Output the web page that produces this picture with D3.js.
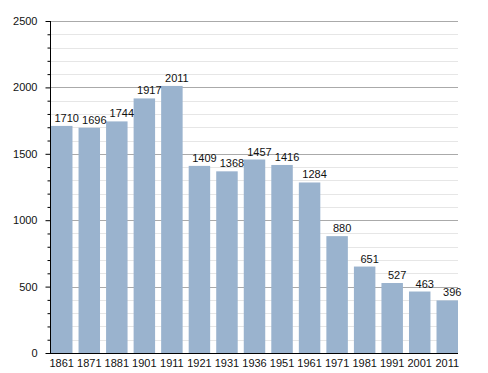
<!DOCTYPE html>
<html>
<head>
  <script src="https://d3js.org/d3.v7.min.js"></script>
  <style>
    body { margin: 0; background: #fff; }
    svg text { font-family: "Liberation Sans", Arial, sans-serif; font-size: 11px; fill: #111; }
  </style>
</head>
<body>
  <svg id="chart"></svg>
  <script>
    // Data
    const years = ["1861", "1871", "1881", "1901", "1911", "1921", "1931", "1936", "1951", "1961", "1971", "1981", "1991", "2001", "2011"];
    const population = [1710, 1696, 1744, 1917, 2011, 1409, 1368, 1457, 1416, 1284, 880, 651, 527, 463, 396];
    const yTicks = [0, 500, 1000, 1500, 2000, 2500];

    const width = 488, height = 373;
    const plotLeft = 50, plotRight = 458, plotTop = 21, plotBottom = 353;

    const svg = d3.select("#chart").attr("width", width).attr("height", height);

    const x = d3.scaleBand().domain(years).range([plotLeft + 1, plotRight]).paddingInner(0.22).paddingOuter(0.0);
    const y = d3.scaleLinear().domain([0, 2500]).range([plotBottom, plotTop]);

    // minor grid every 100
    svg.append("g").selectAll("line")
      .data(d3.range(100, 2501, 100).filter(v => v % 500 !== 0))
      .join("line")
      .attr("x1", plotLeft).attr("x2", plotRight)
      .attr("y1", d => Math.round(y(d)) + 0.5).attr("y2", d => Math.round(y(d)) + 0.5)
      .attr("stroke", "#e6e6e6");

    // major grid
    svg.append("g").selectAll("line")
      .data(yTicks.slice(1))
      .join("line")
      .attr("x1", plotLeft).attr("x2", plotRight)
      .attr("y1", d => Math.round(y(d)) + 0.5).attr("y2", d => Math.round(y(d)) + 0.5)
      .attr("stroke", "#aaaaaa");

    // bars
    svg.append("g").selectAll("rect")
      .data(population)
      .join("rect")
      .attr("x", (d, i) => x(years[i]))
      .attr("y", d => y(d))
      .attr("width", x.bandwidth())
      .attr("height", d => plotBottom - y(d))
      .attr("fill", "#9ab3ce");

    // value labels
    svg.append("g").selectAll("text")
      .data(population)
      .join("text")
      .attr("x", (d, i) => x(years[i]) + x.bandwidth() / 2 + 5)
      .attr("y", d => y(d) - 4)
      .attr("text-anchor", "middle")
      .text(d => d);

    // y axis
    const yAxis = d3.axisLeft(y).tickValues(yTicks).tickSize(5).tickPadding(8).tickFormat(d3.format("d"));
    const gy = svg.append("g").attr("transform", `translate(${plotLeft + 0.5},0)`).call(yAxis);
    gy.select(".domain").attr("stroke", "#000").attr("d", `M0,${plotTop}V${plotBottom}`);
    gy.selectAll(".tick line").attr("stroke", "#000");
    gy.selectAll("text").attr("font-size", null).attr("font-family", null);

    // minor ticks
    const yMinor = d3.axisLeft(y).tickValues(d3.range(100, 2500, 100).filter(v => v % 500 !== 0)).tickSize(3).tickFormat("");
    const gm = svg.append("g").attr("transform", `translate(${plotLeft + 0.5},0)`).call(yMinor);
    gm.select(".domain").remove();
    gm.selectAll(".tick line").attr("stroke", "#000");

    // x axis
    const xAxis = d3.axisBottom(x).tickSize(0).tickPadding(6);
    const gx = svg.append("g").attr("transform", `translate(0,${plotBottom + 0.5})`).call(xAxis);
    gx.select(".domain").attr("stroke", "#000").attr("d", `M${plotLeft},0H${plotRight}`);
    gx.selectAll("text").attr("font-size", null).attr("font-family", null);
  </script>
</body>
</html>
